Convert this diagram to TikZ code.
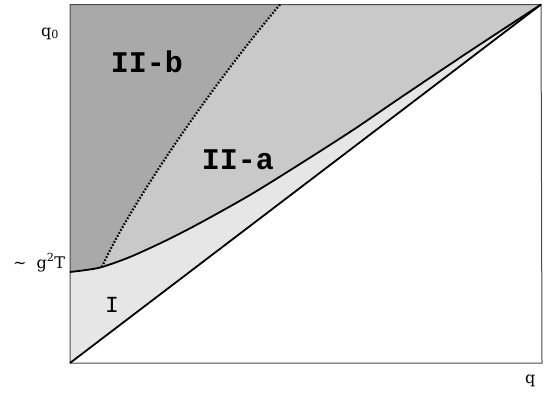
\documentclass[tikz,border=0pt]{standalone}
\usepackage{fontspec}
\setmainfont{DejaVu Serif}
\newfontfamily\regfont{Liberation Mono}
\definecolor{regIIb}{HTML}{A9A9A9}
\definecolor{regIIa}{HTML}{C9C9C9}
\definecolor{regI}{HTML}{E6E6E6}
\definecolor{framecol}{HTML}{4A4A4A}
\tikzset{
  framestyle/.style={draw=framecol, line width=1pt},
  boundary/.style={draw=black, line width=1.8pt, line join=round},
  dotline/.style={draw=black, line width=2.2pt, dash pattern=on 1.6pt off 1.8pt},
  biglabel/.style={font=\regfont\bfseries\fontsize{30}{30}\selectfont, inner sep=0pt},
  smalllabel/.style={font=\regfont\fontsize{23}{23}\selectfont, inner sep=0pt},
  axislabel/.style={font=\fontsize{16}{16}\selectfont, inner sep=0pt, anchor=base west}
}
\begin{document}
\begin{tikzpicture}[x=1pt,y=-1pt]
\useasboundingbox (0,0) rectangle (549,397);
\coordinate (O) at (70,363);
\coordinate (TL) at (70,4.5);
\coordinate (TR) at (541,4.5);
\coordinate (BR) at (542,363);
\coordinate (A) at (70,272);
\coordinate (P) at (102,267);
\coordinate (D) at (280,4.5);
% region II-a (whole area above curve)
\fill[regIIa] (TL) -- (TR) -- plot[smooth] coordinates {(541,4.5) (470,51) (400,98) (353,130) (300,164) (250,195) (200,223) (165,241) (130,257) (102,267) (86,270) (70,272)} -- cycle;
% region II-b
\fill[regIIb] (TL) -- (A) -- (86,270) -- (P) .. controls (125,215) and (200,100) .. (D) -- cycle;
% region I
\fill[regI] (O) -- plot[smooth] coordinates {(70,272) (86,270) (102,267) (130,257) (165,241) (200,223) (250,195) (300,164) (353,130) (400,98) (470,51) (541,4.5)} -- cycle;
% frame
\draw[framestyle] (TL) -- (TR) -- (BR) -- (O) -- cycle;
% dotted boundary
\draw[dotline] (P) .. controls (125,215) and (200,100) .. (D);
% solid boundary
\draw[boundary] plot[smooth] coordinates {(70,272) (86,270) (102,267) (130,257) (165,241) (200,223) (250,195) (300,164) (353,130) (400,98) (470,51) (541,4.5)};
% diagonal
\draw[boundary] (O) -- (TR);
% labels
\node[biglabel] (lb) at (147,62) {II-b};
\node[biglabel] (la) at (238,160) {II-a};
\node[smalllabel] (l1) at (112,305) {I};
\node[axislabel] (q0) at (41,36) {q\textsubscript{0}};
\node[axislabel] (g2t) at (13,268) {\textasciitilde\hspace{10pt}g\textsuperscript{2}T};
\node[axislabel] (q) at (525,383) {q};
\end{tikzpicture}
\end{document}
